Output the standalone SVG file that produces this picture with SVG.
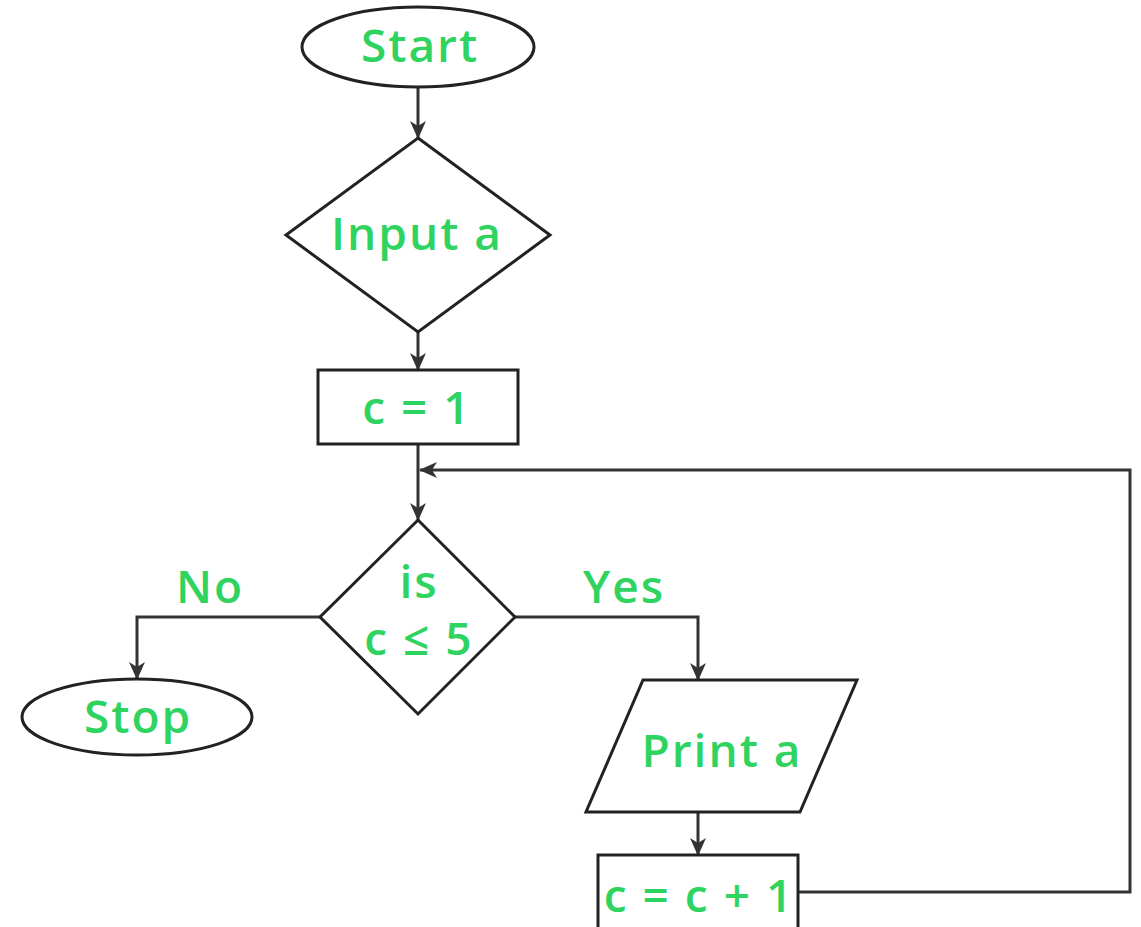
<svg xmlns="http://www.w3.org/2000/svg" width="1141" height="927" viewBox="0 0 1141 927">
  <style>
    .shape { fill: #ffffff; stroke: #222222; stroke-width: 3; }
    .edge { fill: none; stroke: #333333; stroke-width: 3; }
    .label { fill: #2fd35f; font-family: "Open Sans", "Liberation Sans", sans-serif; font-weight: 600; font-size: 46px; letter-spacing: 2px; text-anchor: middle; }
  </style>
  <defs>
    <marker id="arrow" viewBox="0 0 18 16" refX="17" refY="8" markerWidth="18" markerHeight="16" markerUnits="userSpaceOnUse" orient="auto">
      <path d="M0,0 L18,8 L0,16 L5,8 Z" fill="#333333"/>
    </marker>
  </defs>

  <!-- connectors -->
  <g id="connectors">
    <path class="edge" d="M418,88 V138" marker-end="url(#arrow)"/>
    <path class="edge" d="M418,332 V370" marker-end="url(#arrow)"/>
    <path class="edge" d="M418,444 V520" marker-end="url(#arrow)"/>
    <path class="edge" d="M320,617 H137 V679" marker-end="url(#arrow)"/>
    <path class="edge" d="M515,617 H698 V680" marker-end="url(#arrow)"/>
    <path class="edge" d="M698,812 V855" marker-end="url(#arrow)"/>
    <path class="edge" d="M798,892 H1130 V470 H420" marker-end="url(#arrow)"/>
  </g>

  <g id="start">
    <ellipse class="shape" cx="418" cy="47" rx="116" ry="40"/>
    <text class="label" x="420" y="62">Start</text>
  </g>

  <g id="input-a">
    <polygon class="shape" points="418,138 550,235 418,332 286,235"/>
    <text class="label" x="417" y="250">Input a</text>
  </g>

  <g id="init-c">
    <rect class="shape" x="318" y="370" width="200" height="74"/>
    <text class="label" x="417" y="424">c = 1</text>
  </g>

  <g id="check-c">
    <polygon class="shape" points="418,520 515,617 418,714 320,617"/>
    <text class="label" x="419" y="598">is</text>
    <text class="label" x="419" y="655">c ≤ 5</text>
  </g>

  <g id="no-label">
    <text class="label" x="210" y="603">No</text>
  </g>

  <g id="yes-label">
    <text class="label" x="624" y="603">Yes</text>
  </g>

  <g id="stop">
    <ellipse class="shape" cx="137" cy="717" rx="115" ry="38"/>
    <text class="label" x="138" y="733">Stop</text>
  </g>

  <g id="print-a">
    <polygon class="shape" points="643,680 857,680 800,812 586,812"/>
    <text class="label" x="722" y="767">Print a</text>
  </g>

  <g id="increment-c">
    <rect class="shape" x="598" y="855" width="200" height="80"/>
    <text class="label" x="699" y="912">c = c + 1</text>
  </g>
</svg>
